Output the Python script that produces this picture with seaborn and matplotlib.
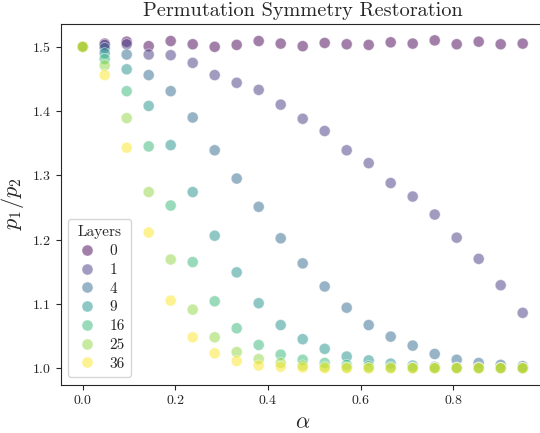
import numpy as np
import pandas as pd
import matplotlib
matplotlib.use("Agg")
import matplotlib.pyplot as plt
import seaborn as sns

# x values (alpha), 21 points
alpha_vals = [0.0, 0.0475, 0.095, 0.1425, 0.19, 0.2375, 0.285, 0.3325, 0.38, 0.4275,
              0.475, 0.5225, 0.57, 0.6175, 0.665, 0.7125, 0.76, 0.8075, 0.855, 0.9025, 0.95]

layers = [0, 1, 4, 9, 16, 25, 36]

ratio_L0 = [1.500, 1.505, 1.508, 1.501, 1.509, 1.504, 1.500, 1.503, 1.509, 1.505, 1.501,
            1.506, 1.504, 1.503, 1.507, 1.505, 1.510, 1.504, 1.508, 1.504, 1.505]
ratio_L1 = [1.500, 1.503, 1.504, 1.488, 1.487, 1.475, 1.456, 1.444, 1.433, 1.410, 1.388,
            1.369, 1.339, 1.319, 1.288, 1.267, 1.239, 1.203, 1.170, 1.129, 1.086]
ratio_L4 = [1.500, 1.498, 1.488, 1.456, 1.431, 1.390, 1.339, 1.295, 1.251, 1.202, 1.163,
            1.127, 1.094, 1.067, 1.049, 1.035, 1.022, 1.013, 1.008, 1.005, 1.003]
ratio_L9 = [1.500, 1.490, 1.465, 1.408, 1.347, 1.274, 1.206, 1.149, 1.101, 1.067, 1.045,
            1.030, 1.018, 1.012, 1.007, 1.004, 1.002, 1.001, 1.001, 1.000, 1.000]
ratio_L16 = [1.500, 1.481, 1.431, 1.345, 1.253, 1.165, 1.104, 1.062, 1.036, 1.021, 1.013,
             1.008, 1.005, 1.003, 1.002, 1.001, 1.000, 1.000, 1.000, 1.000, 1.000]
ratio_L25 = [1.500, 1.471, 1.389, 1.274, 1.169, 1.091, 1.048, 1.025, 1.014, 1.008, 1.004,
             1.002, 1.001, 1.000, 1.000, 1.000, 1.000, 1.000, 1.000, 1.000, 1.000]
ratio_L36 = [1.500, 1.456, 1.343, 1.211, 1.105, 1.048, 1.023, 1.011, 1.004, 1.002, 1.001,
             1.000, 1.000, 1.000, 1.000, 1.000, 1.000, 1.000, 1.000, 1.000, 1.000]

series = [ratio_L0, ratio_L1, ratio_L4, ratio_L9, ratio_L16, ratio_L25, ratio_L36]

rows = []
for layer, vals in zip(layers, series):
    for a, v in zip(alpha_vals, vals):
        rows.append({"alpha": a, "ratio": v, "Layers": layer})
df = pd.DataFrame(rows)

sns.set_style("ticks")
plt.rcParams["font.family"] = "serif"
plt.rcParams["font.serif"] = ["cmr10"]
plt.rcParams["mathtext.fontset"] = "cm"
plt.rcParams["axes.formatter.use_mathtext"] = True
plt.rcParams["axes.unicode_minus"] = False

palette = [tuple(c) for c in plt.cm.viridis(np.linspace(0, 1, len(layers)))]

fig = plt.figure(figsize=(5.4, 4.33), dpi=100)
ax = fig.add_axes([60.7 / 540, (433 - 384.5) / 433, 484 / 540, 360.5 / 433])

sns.scatterplot(data=df, x="alpha", y="ratio", hue="Layers", hue_order=layers,
                palette=palette, alpha=0.5, s=64, ax=ax)

ax.set_title("Permutation Symmetry Restoration", fontsize=14.6)
ax.set_xlabel(r"$\alpha$", fontsize=16)
ax.set_ylabel(r"$p_1/p_2$", fontsize=16)
ax.tick_params(labelsize=10)
ax.set_xticks([0.0, 0.2, 0.4, 0.6, 0.8])
ax.set_yticks([1.0, 1.1, 1.2, 1.3, 1.4, 1.5])
sns.move_legend(ax, "lower left", title="Layers", fontsize=11, title_fontsize=11,
                labelspacing=0.33, handlelength=1.7, handletextpad=0.6)

fig.savefig("out.png", dpi=100)
